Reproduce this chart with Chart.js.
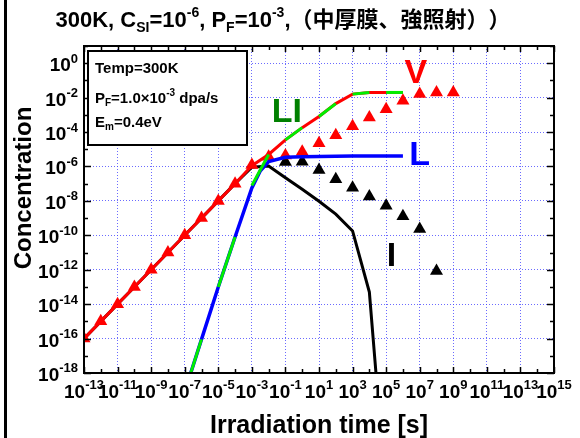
<!DOCTYPE html>
<html>
<head>
<meta charset="utf-8">
<script src="https://cdn.jsdelivr.net/npm/chart.js@4.4.1/dist/chart.umd.min.js"></script>
<style>
  html, body { margin: 0; padding: 0; background: #fff; }
  #wrap { position: relative; width: 580px; height: 438px; }
</style>
</head>
<body>
<div id="wrap"><canvas id="chart" width="580" height="438"></canvas></div>
<script>
// values (time in s, concentration in atomic fraction)
const timeLine = [1e-13, 1e-12, 1e-11, 1e-10, 1e-9, 1e-8, 1e-7, 1e-6, 1e-5, 1e-4, 1e-3, 1e-2, 1e-1, 1, 10, 100, 1e3, 1e4, 1e5, 1e6];
const vLine = [1e-16, 1e-15, 1e-14, 1e-13, 1e-12, 1e-11, 1e-10, 1e-9, 1e-8, 1e-7, 1.1e-6, 5e-6, 3.5e-5, 1.8e-4, 8e-4, 4.5e-3, 1.6e-2, 2e-2, 2e-2, 2e-2];

const timeI = [1e-13, 1e-12, 1e-11, 1e-10, 1e-9, 1e-8, 1e-7, 1e-6, 1e-5, 1e-4, 1e-3, 1e-2, 1e-1, 1, 10, 100, 1e3, 1e4, 1e5];
const iLine = [1e-16, 1e-15, 1e-14, 1e-13, 1e-12, 1e-11, 1e-10, 1e-9, 1e-8, 1e-7, 9e-7, 1.07e-6, 2.2e-7, 4.7e-8, 9.5e-9, 1.7e-9, 1.8e-10, 5e-14, 6e-26];

const timeL = [1e-7, 1e-6, 1e-5, 1e-4, 1e-3, 3.2e-3, 1e-2, 1e-1, 1, 10, 100, 1e3, 1e4, 1e5, 1e6];
const lLine = [8e-20, 9e-17, 1e-13, 8e-11, 5.6e-8, 5.6e-7, 1.9e-6, 3.4e-6, 3.7e-6, 3.8e-6, 3.9e-6, 4e-6, 4e-6, 4.1e-6, 4.1e-6];

const timeLI = [1e-7, 1e-6, 1e-5, 1e-4, 1e-3, 1e-2, 1e-1, 1, 10, 100, 1e3, 1e4, 1e5, 1e6];
const liLine = [8e-20, 9e-17, 1e-13, 8e-11, 7.9e-8, 5e-6, 3.5e-5, 1.8e-4, 8e-4, 4.5e-3, 1.6e-2, 2e-2, 2e-2, 2e-2];

const timeVMarks = [1e-13, 1e-12, 1e-11, 1e-10, 1e-9, 1e-8, 1e-7, 1e-6, 1e-5, 1e-4, 1e-3, 1e-2, 1e-1, 1, 10, 100, 1e3, 1e4, 1e5, 1e6, 1e7, 1e8, 1e9];
const vMarks = [1e-16, 1e-15, 1e-14, 1e-13, 1e-12, 1e-11, 1e-10, 1e-9, 1e-8, 1e-7, 1.2e-6, 3.7e-6, 4.3e-6, 7.2e-6, 2.2e-5, 6.5e-5, 2.2e-4, 6.9e-4, 2.1e-3, 6.5e-3, 1.6e-2, 2e-2, 2e-2];

const timeIMarks = [1e-1, 1, 10, 100, 1e3, 1e4, 1e5, 1e6, 1e7, 1e8];
const iMarks = [1.8e-6, 1.9e-6, 6.3e-7, 1.8e-7, 5.9e-8, 1.8e-8, 5.2e-9, 1.3e-9, 2.3e-10, 8.5e-13];

// axis decades (exponents)
const xDecades = [-13, -12, -11, -10, -9, -8, -7, -6, -5, -4, -3, -2, -1, 0, 1, 2, 3, 4, 5, 6, 7, 8, 9, 10, 11, 12, 13, 14, 15];
const xLabelExps = [-13, -11, -9, -7, -5, -3, -1, 1, 3, 5, 7, 9, 11, 13, 15];
const yDecades = [-18, -17, -16, -15, -14, -13, -12, -11, -10, -9, -8, -7, -6, -5, -4, -3, -2, -1, 0, 1];
const yLabelExps = [-18, -16, -14, -12, -10, -8, -6, -4, -2, 0];

const seriesLabels = [
  { text: 'V', x: 5.8e6, y: 7.1e-2, color: '#ff0000' },
  { text: 'LI', x: 0.12, y: 3.9e-4, color: '#008000' },
  { text: 'L', x: 1e7, y: 1.23e-6, color: '#0000ff' },
  { text: 'I', x: 2.1e5, y: 1.66e-12, color: '#000000' }
];

const FONT = "'Liberation Sans', Arial, 'Noto Sans CJK JP', sans-serif";
const gridBlue = 'rgba(70, 70, 255, 0.8)';

const pts = (xs, ys) => xs.map((x, i) => ({ x: x, y: ys[i] }));

// draw a run of text pieces with sub/superscripts
function richText(ctx, parts, x, y, size, small, align) {
  const widths = parts.map(p => {
    ctx.font = 'bold ' + (p.s ? small : size) + 'px ' + FONT;
    return ctx.measureText(p.t).width;
  });
  const total = widths.reduce((a, b) => a + b, 0);
  let cx = align === 'center' ? x - total / 2 : align === 'right' ? x - total : x;
  ctx.textAlign = 'left';
  ctx.textBaseline = 'alphabetic';
  parts.forEach((p, i) => {
    ctx.font = 'bold ' + (p.s ? small : size) + 'px ' + FONT;
    let dy = 0;
    if (p.s === 'sup') dy = -size * 0.45;
    if (p.s === 'sub') dy = size * 0.22;
    ctx.fillText(p.t, cx, y + dy);
    cx += widths[i];
  });
}

const decor = {
  id: 'decor',
  afterDraw(chart) {
    const ctx = chart.ctx, a = chart.chartArea;
    const xs = chart.scales.x, ys = chart.scales.y;
    ctx.save();
    ctx.fillStyle = '#000';
    ctx.strokeStyle = '#000';

    // stray border line at the far left of the picture
    ctx.fillRect(4, 0, 3, 438);

    // ticks, pointing inwards on all four sides
    ctx.lineWidth = 1.5;
    ctx.beginPath();
    xDecades.forEach(e => {
      const px = Math.round(xs.getPixelForValue(Math.pow(10, e))) + 0.5;
      const len = xLabelExps.includes(e) ? 6 : 4;
      ctx.moveTo(px, a.bottom); ctx.lineTo(px, a.bottom - len);
      ctx.moveTo(px, a.top); ctx.lineTo(px, a.top + len);
    });
    yDecades.forEach(e => {
      const py = Math.round(ys.getPixelForValue(Math.pow(10, e))) + 0.5;
      const len = yLabelExps.includes(e) ? 7 : 4;
      ctx.moveTo(a.left, py); ctx.lineTo(a.left + len, py);
      ctx.moveTo(a.right, py); ctx.lineTo(a.right - len, py);
    });
    ctx.stroke();

    // frame
    ctx.lineWidth = 2;
    ctx.strokeRect(a.left, a.top, a.right - a.left, a.bottom - a.top);

    // tick labels
    xLabelExps.forEach(e => {
      const px = xs.getPixelForValue(Math.pow(10, e));
      richText(ctx, [{ t: '10' }, { t: String(e), s: 'sup' }], px, a.bottom + 25, 19, 13, 'center');
    });
    yLabelExps.forEach(e => {
      const py = ys.getPixelForValue(Math.pow(10, e));
      richText(ctx, [{ t: '10' }, { t: String(e), s: 'sup' }], a.left - 6, py + 8, 19, 13, 'right');
    });

    // axis titles
    ctx.font = 'bold 25px ' + FONT;
    ctx.textAlign = 'center';
    ctx.textBaseline = 'alphabetic';
    ctx.fillText('Irradiation time [s]', (a.left + a.right) / 2, 433);
    ctx.save();
    ctx.translate(24, 188);
    ctx.rotate(-Math.PI / 2);
    ctx.font = 'bold 24px ' + FONT;
    ctx.textBaseline = 'middle';
    ctx.fillText('Concentration', 0, 0);
    ctx.restore();

    // title
    richText(ctx, [
      { t: '300K, C' }, { t: 'SI', s: 'sub' }, { t: '=10' }, { t: '-6', s: 'sup' },
      { t: ', P' }, { t: 'F', s: 'sub' }, { t: '=10' }, { t: '-3', s: 'sup' },
      { t: ',（中厚膜、強照射）' }, { t: '）' }
    ], 283, 27, 22, 14, 'center');

    // condition box
    ctx.fillStyle = '#fff';
    ctx.fillRect(a.left + 4, a.top + 5, 159, 94);
    ctx.lineWidth = 2;
    ctx.strokeRect(a.left + 4, a.top + 5, 159, 94);
    ctx.fillStyle = '#000';
    richText(ctx, [{ t: 'Temp=300K' }], a.left + 11, 73, 15, 10, 'left');
    richText(ctx, [{ t: 'P' }, { t: 'F', s: 'sub' }, { t: '=1.0×10' }, { t: '-3', s: 'sup' }, { t: ' dpa/s' }], a.left + 11, 103, 15, 10, 'left');
    richText(ctx, [{ t: 'E' }, { t: 'm', s: 'sub' }, { t: '=0.4eV' }], a.left + 11, 127, 15, 10, 'left');

    // series names
    ctx.font = 'bold 34px ' + FONT;
    ctx.textAlign = 'center';
    ctx.textBaseline = 'alphabetic';
    seriesLabels.forEach(l => {
      ctx.fillStyle = l.color;
      ctx.fillText(l.text, xs.getPixelForValue(l.x), ys.getPixelForValue(l.y));
    });
    ctx.restore();
  }
};

new Chart(document.getElementById('chart'), {
  type: 'line',
  data: {
    datasets: [
      {
        label: 'LI',
        data: pts(timeLI, liLine),
        borderColor: '#00ee00',
        borderWidth: 3,
        pointRadius: 0,
        segment: { borderColor: c => (c.p0DataIndex % 2 === 0 ? '#00ee00' : 'transparent') }
      },
      { label: 'L', data: pts(timeL, lLine), borderColor: '#0000ff', borderWidth: 3.5, pointRadius: 0 },
      { label: 'V', data: pts(timeLine, vLine), borderColor: '#ff0000', borderWidth: 3, pointRadius: 0 },
      {
        label: 'V marks',
        data: pts(timeVMarks, vMarks),
        showLine: false,
        pointStyle: 'triangle',
        pointRadius: 7.5,
        backgroundColor: '#ff0000',
        borderColor: '#ff0000',
        borderWidth: 0
      },
      {
        label: 'I marks',
        data: pts(timeIMarks, iMarks),
        showLine: false,
        pointStyle: 'triangle',
        pointRadius: 7.5,
        backgroundColor: '#000',
        borderColor: '#000',
        borderWidth: 0
      },
      { label: 'I', data: pts(timeI, iLine), borderColor: '#000', borderWidth: 3, pointRadius: 0 }
    ]
  },
  options: {
    responsive: false,
    animation: false,
    layout: { padding: { left: 84, right: 26, top: 46, bottom: 65 } },
    plugins: { legend: { display: false }, tooltip: { enabled: false } },
    scales: {
      x: {
        type: 'logarithmic',
        min: 1e-13,
        max: 1e15,
        afterBuildTicks: s => { s.ticks = xDecades.map(e => ({ value: Math.pow(10, e) })); },
        ticks: { display: false },
        grid: {
          color: c => (c.tick && xLabelExps.includes(Math.round(Math.log10(c.tick.value))) ? gridBlue : 'transparent'),
          drawTicks: false,
          lineWidth: 1
        },
        border: { display: false, dash: [1, 2] }
      },
      y: {
        type: 'logarithmic',
        min: 1e-18,
        max: 1e1,
        afterBuildTicks: s => { s.ticks = yDecades.map(e => ({ value: Math.pow(10, e) })); },
        ticks: { display: false },
        grid: {
          color: c => (c.tick && yLabelExps.includes(Math.round(Math.log10(c.tick.value))) ? gridBlue : 'transparent'),
          drawTicks: false,
          lineWidth: 1
        },
        border: { display: false, dash: [1, 2] }
      }
    }
  },
  plugins: [decor]
});
</script>
</body>
</html>
